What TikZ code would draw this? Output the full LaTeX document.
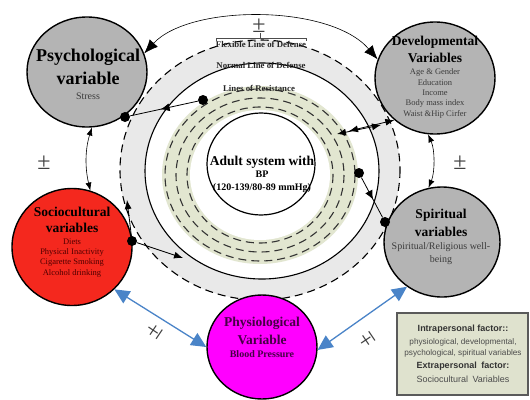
\documentclass[tikz,border=0pt]{standalone}
\usepackage{fontspec}
\setmainfont{Liberation Serif}
\newfontfamily\legendfont{Liberation Sans}
\usetikzlibrary{arrows.meta,shapes.geometric,decorations.markings}
\definecolor{nodegray}{RGB}{180,180,180}
\definecolor{sred}{RGB}{244,40,30}
\definecolor{pmag}{RGB}{255,0,255}
\definecolor{bandgreen}{RGB}{226,230,208}
\definecolor{bandgray}{RGB}{233,233,233}
\definecolor{arrblue}{RGB}{74,132,200}
\definecolor{legfill}{RGB}{223,226,206}
\definecolor{legline}{RGB}{90,90,90}
\definecolor{subgray}{RGB}{60,60,60}
\definecolor{socsub}{RGB}{80,0,0}
\definecolor{physub}{RGB}{70,0,70}
\begin{document}
\begin{tikzpicture}[x=1pt,y=-1pt,
  varnode/.style={ellipse, draw=black, line width=1.4pt, inner sep=0pt},
  ttl/.style={font=\bfseries\fontsize{13.5}{15}\selectfont, inner sep=0pt},
  subtxt/.style={font=\fontsize{8.5}{10}\selectfont, inner sep=0pt},
  ringlbl/.style={font=\bfseries\fontsize{8.8}{9}\selectfont, inner sep=0pt, text=black!85},
  pmlbl/.style={font=\fontsize{24}{24}\selectfont, inner sep=0pt, text=black!75},
  dotnode/.style={circle, fill=black, minimum size=10pt, inner sep=0pt},
  ringdash/.style={line width=1.1pt, dash pattern=on 8pt off 5pt},
  greendash/.style={line width=1.1pt, draw=black!80, dash pattern=on 8pt off 5pt},
  arcarrow/.style={line width=0.6pt, {Latex[length=14pt,width=11pt]}-{Latex[length=14pt,width=11pt]}},
  sidearc/.style={line width=0.6pt, {Latex[length=8pt,width=6pt]}-{Latex[length=8pt,width=6pt]}},
  bluearr/.style={draw=arrblue, line width=1.3pt, {Triangle[length=15pt,width=14pt]}-{Triangle[length=15pt,width=14pt]}},
  endarr/.style={line width=0.8pt, -{Latex[length=9pt,width=7pt]}},
  dblarr/.style={line width=0.8pt, {Latex[length=9pt,width=7pt]}-{Latex[length=9pt,width=7pt]}},
  midarr/.style={line width=0.8pt, postaction={decorate},
    decoration={markings, mark=at position 0.55 with {\arrow{Latex[length=9pt,width=8pt]}}}},
  legtxt/.style={font=\legendfont\fontsize{8.2}{9}\selectfont, inner sep=0pt, text=black!70},
  legbold/.style={font=\legendfont\bfseries\fontsize{9}{10}\selectfont, inner sep=0pt, text=black!80}
]
\useasboundingbox (0,0) rectangle (530,399);
\fill[white] (0,0) rectangle (530,399);

% ring fills
\fill[bandgray] (260,170) ellipse [x radius=140, y radius=130];
\fill[white] (262,171) ellipse [x radius=117, y radius=108];
\fill[bandgreen] (260,175) ellipse [x radius=98, y radius=89];
\fill[white] (260,175) ellipse [x radius=70, y radius=65];
% ring lines
\draw[ringdash] (260,170) ellipse [x radius=140, y radius=130];
\draw[line width=1.1pt] (262,171) ellipse [x radius=117, y radius=108];
\draw[greendash] (260,175) ellipse [x radius=95, y radius=86];
\draw[greendash] (260,175) ellipse [x radius=84, y radius=77];
\draw[greendash] (260,175) ellipse [x radius=73, y radius=68];

% adult system
\node[ellipse, draw=black, line width=1.2pt, fill=white, minimum width=108, minimum height=102, inner sep=0pt] (adult) at (261,164) {};
\node[ttl] (adultA) at (262,162) {Adult system with};
\node[font=\bfseries\fontsize{10}{11}\selectfont, inner sep=0pt] (adultB) at (262,174) {BP};
\node[font=\bfseries\fontsize{10}{11}\selectfont, inner sep=0pt] (adultC) at (262,188) {(120-139/80-89 mmHg)};

% ring labels
\node[ringlbl] (flex) at (261,44) {Flexible Line of Defense};
\node[ringlbl] (norm) at (261,65) {Normal Line of Defense};
\node[ringlbl] (res) at (259,88) {Lines of Resistance};
\draw[line width=0.5pt, black!70] (260,33) -- (260,38);
\draw[line width=0.5pt, black!70] (216,41) -- (216,38) -- (306,38) -- (306,41);

% variable nodes
\node[varnode, fill=nodegray, minimum width=120, minimum height=110] (psych) at (87,72) {};
\node[varnode, fill=nodegray, minimum width=120, minimum height=112] (dev) at (435,78) {};
\node[varnode, fill=sred, minimum width=120, minimum height=117] (socio) at (72,247) {};
\node[varnode, fill=nodegray, minimum width=116, minimum height=110] (spir) at (442,242) {};
\node[varnode, fill=pmag, minimum width=110, minimum height=104] (physio) at (262,347) {};

% texts
\node[font=\bfseries\fontsize{18}{20}\selectfont, inner sep=0pt] (psT1) at (88,57) {Psychological};
\node[font=\bfseries\fontsize{18}{20}\selectfont, inner sep=0pt] (psT2) at (88,78) {variable};
\node[inner sep=0pt, text=subgray, font=\fontsize{10}{11}\selectfont] (psS) at (88,96) {Stress};

\node[ttl] (dvT1) at (435,42) {Developmental};
\node[ttl] (dvT2) at (435,58) {Variables};
\node[subtxt, text=subgray] (dv1) at (435,72) {Age \& Gender};
\node[subtxt, text=subgray] (dv2) at (435,82.5) {Education};
\node[subtxt, text=subgray] (dv3) at (435,93) {Income};
\node[subtxt, text=subgray] (dv4) at (435,103.5) {Body mass index};
\node[subtxt, text=subgray] (dv5) at (435,114) {Waist \&Hip Cirfer};

\node[ttl] (soT1) at (72,212) {Sociocultural};
\node[ttl] (soT2) at (72,228) {variables};
\node[subtxt, text=socsub] (so1) at (72,241.5) {Diets};
\node[subtxt, text=socsub] (so2) at (72,252) {Physical Inactivity};
\node[subtxt, text=socsub] (so3) at (72,262.5) {Cigarette Smoking};
\node[subtxt, text=socsub] (so4) at (72,273) {Alcohol drinking};

\node[ttl] (spT1) at (441,215) {Spiritual};
\node[ttl] (spT2) at (441,232) {variables};
\node[inner sep=0pt, text=subgray, font=\fontsize{10}{11}\selectfont] (sp1) at (441,247) {Spiritual/Religious well-};
\node[inner sep=0pt, text=subgray, font=\fontsize{10}{11}\selectfont] (sp2) at (441,260) {being};

\node[ttl, text=physub] (phT1) at (262,323) {Physiological};
\node[ttl, text=physub] (phT2) at (262,340) {Variable};
\node[font=\bfseries\fontsize{10}{11}\selectfont, inner sep=0pt, text=physub] (ph1) at (262,354) {Blood Pressure};

% curved connectors between variables
\draw[arcarrow] (psych.18) .. controls (190,4) and (330,4) .. (dev.162);
\draw[sidearc] (psych.-85) .. controls (85,150) and (85,168) .. (socio.72);
\draw[sidearc] (dev.-97) .. controls (435,150) and (435,172) .. (spir.104);

% blue arrows
\draw[bluearr] (socio.-45) -- (physio.180);
\draw[bluearr] (spir.-128) -- (physio.-3);

% plus-minus labels
\node[pmlbl] (pmT) at (259,26) {±};
\node[pmlbl] (pmL) at (44,163) {±};
\node[pmlbl] (pmR) at (460,163) {±};
\node[pmlbl, rotate=56] (pmBL) at (155,331) {±};
\node[pmlbl, rotate=124] (pmBR) at (367,340) {±};

% black dot connectors
\node[dotnode] (d1) at (125,117) {};
\node[dotnode] (d2) at (203,100) {};
\draw[midarr] (d2) -- (d1);

\node[dotnode] (d3) at (132,241) {};
\coordinate (c1) at (183,258);
\coordinate (c2) at (127,200);
\draw[endarr] (d3) -- (c1);
\draw[endarr] (d3) -- (c2);

\coordinate (c3) at (337,134);
\coordinate (c4) at (349,131);
\coordinate (c5) at (381,125);
\draw[dblarr] (c3) -- (c5);
\draw[dblarr] (c4) -- (dev.-134);

\node[dotnode] (d4) at (359,173) {};
\node[dotnode] (d5) at (385,222) {};
\draw[midarr] (d4) -- (d5);

% legend
\node[draw=legline, line width=1.2pt, fill=legfill, minimum width=131, minimum height=82, inner sep=0pt] (legend) at (462.5,354) {};
\node[legbold] (lg1) at (463,329) {Intrapersonal factor::};
\node[legtxt] (lg2) at (463,342) {physiological, developmental,};
\node[legtxt] (lg3) at (463,353) {psychological, spiritual variables};
\node[legbold] (lg4) at (463,366) {Extrapersonal\enspace factor:};
\node[legtxt, font=\legendfont\fontsize{9}{10}\selectfont] (lg5) at (463,379) {Sociocultural\enspace Variables};
\end{tikzpicture}
\end{document}
